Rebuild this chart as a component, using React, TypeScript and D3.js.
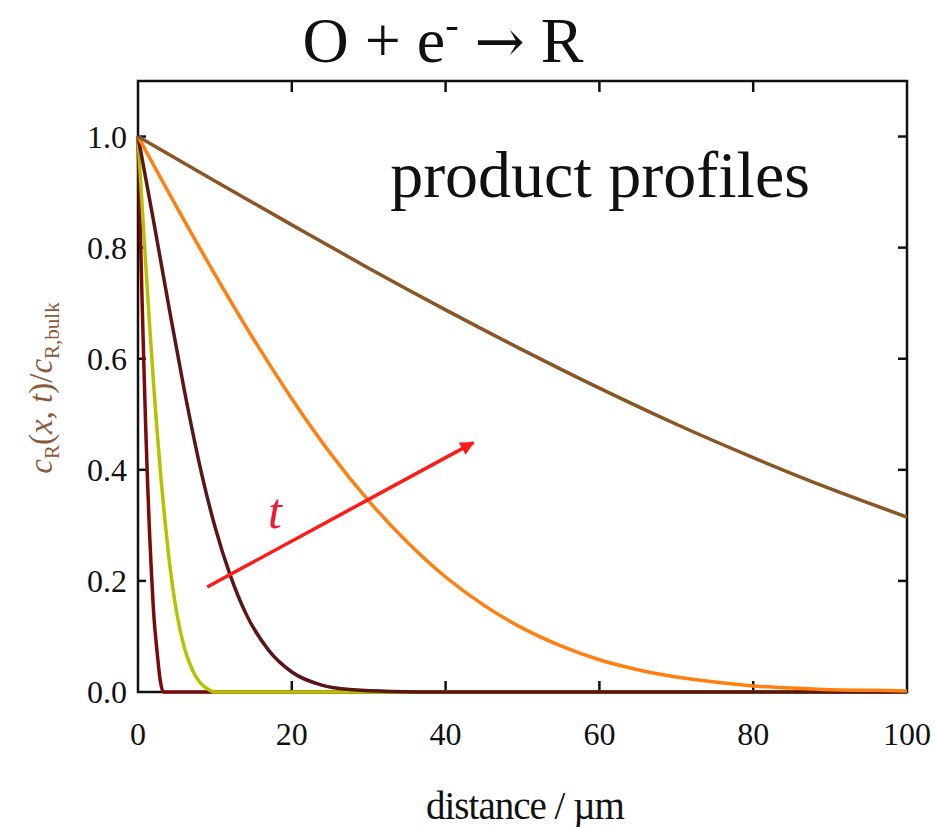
import { useEffect, useRef } from 'react';
import * as d3 from 'd3';

// distance / µm
const xTicks = [0, 20, 40, 60, 80, 100];
const yTicks = [0, 0.2, 0.4, 0.6, 0.8, 1.0];

// profiles, shortest time first
const darkRedX = [0, 0.25, 0.5, 0.75, 1, 1.25, 1.5, 1.75, 2, 2.5, 2.9, 3.3, 100];
const darkRedY = [1, 0.86, 0.72, 0.594, 0.477, 0.375, 0.287, 0.214, 0.15, 0.07, 0.02, 0, 0];

const greenX = [0, 0.5, 1, 1.5, 2, 2.5, 3, 3.5, 4, 4.5, 5, 6, 7, 8, 9, 10, 100];
const greenY = [1, 0.884, 0.771, 0.662, 0.56, 0.467, 0.383, 0.309, 0.244, 0.19, 0.145, 0.081, 0.042, 0.018, 0.006, 0, 0];

const maroonX = [0, 2, 4, 6, 8, 10, 12, 14, 17, 20, 24, 28, 33, 40, 100];
const maroonY = [1, 0.85, 0.695, 0.545, 0.41, 0.298, 0.21, 0.142, 0.075, 0.036, 0.012, 0.004, 0.001, 0, 0];

const orangeX = [0, 5, 10, 15, 20, 25, 30, 35, 40, 45, 50, 55, 60, 65, 70, 75, 80, 85, 90, 95, 100];
const orangeY = [1, 0.874, 0.752, 0.636, 0.528, 0.43, 0.344, 0.27, 0.207, 0.156, 0.115, 0.083, 0.058, 0.04, 0.027, 0.018, 0.011, 0.007, 0.004, 0.003, 0.002];

const brownX = [0, 10, 20, 30, 40, 50, 60, 70, 80, 90, 100];
const brownY = [1, 0.92, 0.841, 0.763, 0.688, 0.616, 0.547, 0.482, 0.422, 0.366, 0.315];

const series = [
  { name: 'darkred', xs: darkRedX, ys: darkRedY, color: '#7d0a0a' },
  { name: 'green', xs: greenX, ys: greenY, color: '#b4c200' },
  { name: 'maroon', xs: maroonX, ys: maroonY, color: '#5a1616' },
  { name: 'orange', xs: orangeX, ys: orangeY, color: '#ff8010' },
  { name: 'brown', xs: brownX, ys: brownY, color: '#8b5626' },
];

// time arrow (data coords)
const arrowFrom = [9, 0.189];
const arrowTo = [43.6, 0.449];

const App = () => {
  const svgRef = useRef<SVGSVGElement>(null);

  useEffect(() => {
    const width = 936;
    const height = 827;
    const margin = { top: 81, right: 29, bottom: 135, left: 138 };

    const svg = d3.select(svgRef.current);
    svg.selectAll('*').remove();
    svg.attr('width', width).attr('height', height);

    const innerWidth = width - margin.left - margin.right;
    const innerHeight = height - margin.top - margin.bottom;

    const x = d3.scaleLinear().domain([0, 100]).range([0, innerWidth]);
    const y = d3.scaleLinear().domain([0, 1.1]).range([innerHeight, 0]);

    const chart = svg
      .append('g')
      .attr('transform', `translate(${margin.left},${margin.top})`);

    // Frame (curves go on top of it, like in the original)
    chart
      .append('rect')
      .attr('width', innerWidth)
      .attr('height', innerHeight)
      .attr('fill', 'none')
      .attr('stroke', '#111')
      .attr('stroke-width', 2.5);

    const tickLen = 11;
    xTicks.slice(1, -1).forEach(t => {
      chart.append('line')
        .attr('x1', x(t)).attr('x2', x(t))
        .attr('y1', innerHeight).attr('y2', innerHeight - tickLen)
        .attr('stroke', '#111').attr('stroke-width', 2.5);
      chart.append('line')
        .attr('x1', x(t)).attr('x2', x(t))
        .attr('y1', 0).attr('y2', tickLen)
        .attr('stroke', '#111').attr('stroke-width', 2.5);
    });
    yTicks.slice(1).forEach(t => {
      chart.append('line')
        .attr('x1', 0).attr('x2', 8)
        .attr('y1', y(t)).attr('y2', y(t))
        .attr('stroke', '#111').attr('stroke-width', 2.5);
      chart.append('line')
        .attr('x1', innerWidth).attr('x2', innerWidth - 9)
        .attr('y1', y(t)).attr('y2', y(t))
        .attr('stroke', '#111').attr('stroke-width', 2.5);
    });

    // Curves
    const line = d3
      .line<[number, number]>()
      .x(d => x(d[0]))
      .y(d => y(d[1]))
      .curve(d3.curveMonotoneX);

    series.forEach(s => {
      const pts = s.xs.map((v, i) => [v, s.ys[i]] as [number, number]);
      chart
        .append('path')
        .attr('d', line(pts))
        .attr('fill', 'none')
        .attr('stroke', s.color)
        .attr('stroke-width', 3.5)
        .attr('stroke-linejoin', 'round');
    });

    // Tick labels
    chart.selectAll('.xlab')
      .data(xTicks)
      .enter()
      .append('text')
      .attr('x', d => x(d))
      .attr('y', innerHeight + 53)
      .attr('text-anchor', 'middle')
      .style('font-family', '"Liberation Serif", serif')
      .style('font-size', '32px')
      .attr('fill', '#111')
      .text(d => d);

    chart.selectAll('.ylab')
      .data(yTicks)
      .enter()
      .append('text')
      .attr('x', -11)
      .attr('y', d => y(d) + 11)
      .attr('text-anchor', 'end')
      .style('font-family', '"Liberation Serif", serif')
      .style('font-size', '32px')
      .attr('fill', '#111')
      .text(d => d.toFixed(1));

    // Arrow
    const defs = svg.append('defs');
    defs.append('marker')
      .attr('id', 'arrowhead')
      .attr('viewBox', '0 0 10 10')
      .attr('refX', 9)
      .attr('refY', 5)
      .attr('markerWidth', 5)
      .attr('markerHeight', 4)
      .attr('orient', 'auto')
      .attr('markerUnits', 'strokeWidth')
      .append('path')
      .attr('d', 'M0,0 L10,5 L0,10 Z')
      .attr('fill', '#ff1a1a');

    chart.append('line')
      .attr('x1', x(arrowFrom[0])).attr('y1', y(arrowFrom[1]))
      .attr('x2', x(arrowTo[0])).attr('y2', y(arrowTo[1]))
      .attr('stroke', '#ff1a1a')
      .attr('stroke-width', 3.5)
      .attr('marker-end', 'url(#arrowhead)');

    chart.append('text')
      .attr('x', x(17.8))
      .attr('y', y(0.295))
      .attr('text-anchor', 'middle')
      .style('font-family', '"Liberation Serif", serif')
      .style('font-style', 'italic')
      .style('font-size', '50px')
      .attr('fill', '#f01a30')
      .text('t');

    // Title
    const title = svg.append('text')
      .attr('x', 443)
      .attr('y', 62)
      .attr('text-anchor', 'middle')
      .style('font-family', '"Liberation Serif", serif')
      .style('font-size', '64px')
      .attr('fill', '#111');
    title.append('tspan').text('O + e');
    title.append('tspan').attr('dy', -24).style('font-size', '40px').text('-');
    title.append('tspan').attr('dy', 24).text(' ');
    title.append('tspan').style('font-family', '"DejaVu Serif", serif').style('font-size', '60px').text('\u2192');
    title.append('tspan').text(' R');

    svg.append('text')
      .attr('x', 600)
      .attr('y', 197)
      .attr('text-anchor', 'middle')
      .style('font-family', '"Liberation Serif", serif')
      .style('font-size', '66px')
      .attr('fill', '#111')
      .text('product profiles');

    // Axis titles
    svg.append('text')
      .attr('x', 525)
      .attr('y', 819)
      .attr('text-anchor', 'middle')
      .style('font-family', '"Liberation Serif", serif')
      .style('font-size', '39px')
      .style('letter-spacing', '-1px')
      .attr('fill', '#111')
      .text('distance / \u00b5m');

    const yl = svg.append('text')
      .attr('transform', 'translate(52,388) rotate(-90)')
      .attr('text-anchor', 'middle')
      .style('font-family', '"Liberation Serif", serif')
      .style('font-size', '33px')
      .attr('fill', '#8a5a3a');
    yl.append('tspan').style('font-style', 'italic').text('c');
    yl.append('tspan').attr('dy', 7).style('font-size', '21px').text('R');
    yl.append('tspan').attr('dy', -7).text('(');
    yl.append('tspan').style('font-style', 'italic').text('x');
    yl.append('tspan').text(', ');
    yl.append('tspan').style('font-style', 'italic').text('t');
    yl.append('tspan').text(')/');
    yl.append('tspan').style('font-style', 'italic').text('c');
    yl.append('tspan').attr('dy', 7).style('font-size', '21px').text('R,bulk');
  }, []);

  return <svg ref={svgRef} style={{ position: 'absolute', left: 0, top: 0 }}></svg>;
};

export default App;
